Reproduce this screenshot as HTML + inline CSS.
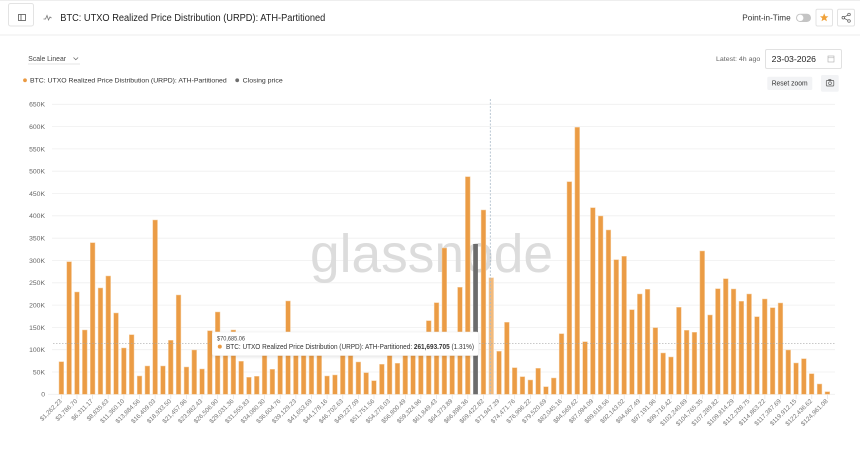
<!DOCTYPE html>
<html>
<head>
<meta charset="utf-8">
<style>
html,body{margin:0;padding:0;background:#fff;}
svg{display:block;font-family:"Liberation Sans",Arial,sans-serif;}
</style>
</head>
<body>
<svg width="860" height="461" viewBox="0 0 860 461" xmlns="http://www.w3.org/2000/svg">
<defs>
<filter id="sh" x="-10%" y="-40%" width="120%" height="180%">
<feDropShadow dx="0" dy="1" stdDeviation="1.5" flood-color="#000" flood-opacity="0.12"/>
</filter>
</defs>
<rect x="0" y="0" width="860" height="461" fill="#fff"/>
<!-- header -->
<line x1="0" y1="0.5" x2="860" y2="0.5" stroke="#eeeeee"/>
<line x1="0" y1="35" x2="860" y2="35" stroke="#ececec"/>
<rect x="8.5" y="3.5" width="25" height="22.5" rx="2" fill="#fff" stroke="#e3e3e3"/>
<rect x="18.5" y="14.5" width="7" height="6" fill="none" stroke="#555" stroke-width="0.8"/>
<line x1="21" y1="14.5" x2="21" y2="20.5" stroke="#555" stroke-width="0.8"/>
<polyline points="43.5,19 45.5,19 47,15.5 48.5,20 50,17 51.5,18" fill="none" stroke="#777" stroke-width="0.8"/>
<text x="60.3" y="21" font-size="10" fill="#222" textLength="265" lengthAdjust="spacingAndGlyphs">BTC: UTXO Realized Price Distribution (URPD): ATH-Partitioned</text>

<text x="742.3" y="20.5" font-size="8.3" fill="#333" textLength="48.4" lengthAdjust="spacingAndGlyphs">Point-in-Time</text>
<rect x="796" y="13.7" width="15" height="8.3" rx="4.15" fill="#c4c4c4"/>
<circle cx="800.2" cy="17.85" r="3.2" fill="#fff"/>
<rect x="816" y="9.3" width="16.5" height="16.7" rx="1.5" fill="#fff" stroke="#e3e3e3"/>
<polygon points="824.2,13.3 825.4,16.2 828.4,16.4 826.1,18.3 826.9,21.3 824.2,19.6 821.5,21.3 822.3,18.3 820,16.4 823,16.2" fill="#F0A23A"/>
<rect x="837.5" y="9.3" width="17" height="16.7" rx="1.5" fill="#fff" stroke="#e3e3e3"/>
<circle cx="849" cy="14.5" r="1.3" fill="none" stroke="#555" stroke-width="0.7"/>
<circle cx="843.3" cy="17.7" r="1.3" fill="none" stroke="#555" stroke-width="0.7"/>
<circle cx="849" cy="21" r="1.3" fill="none" stroke="#555" stroke-width="0.7"/>
<line x1="844.4" y1="17" x2="847.9" y2="15.1" stroke="#555" stroke-width="0.7"/>
<line x1="844.4" y1="18.4" x2="847.9" y2="20.3" stroke="#555" stroke-width="0.7"/>

<!-- controls -->
<text x="28.3" y="61" font-size="7.3" fill="#444" textLength="37.7" lengthAdjust="spacingAndGlyphs">Scale Linear</text>
<polyline points="73.5,57.5 75.8,59.8 78.1,57.5" fill="none" stroke="#666" stroke-width="0.7"/>
<line x1="28" y1="64" x2="80" y2="64" stroke="#e6e6e6"/>

<text x="716" y="61.2" font-size="6.5" fill="#666" textLength="44.3" lengthAdjust="spacingAndGlyphs">Latest: 4h ago</text>
<rect x="765.5" y="49.5" width="76" height="19" rx="1.5" fill="#fff" stroke="#e1e1e1"/>
<text x="771.7" y="62" font-size="8.5" fill="#222" textLength="44.3" lengthAdjust="spacingAndGlyphs">23-03-2026</text>
<rect x="828" y="56" width="6" height="6" fill="none" stroke="#aaa" stroke-width="0.6"/>
<line x1="828" y1="57.8" x2="834" y2="57.8" stroke="#aaa" stroke-width="0.5"/>

<rect x="767.3" y="76.7" width="45" height="13.3" rx="1.5" fill="#f2f3f5"/>
<text x="771.7" y="85.6" font-size="7" fill="#333" textLength="36" lengthAdjust="spacingAndGlyphs">Reset zoom</text>
<rect x="821" y="75" width="17.7" height="16.7" rx="1.5" fill="#f2f3f5"/>
<rect x="826.3" y="80.5" width="7.5" height="5.5" rx="0.8" fill="none" stroke="#555" stroke-width="0.7"/>
<rect x="828.3" y="79.3" width="3" height="1.2" fill="#555"/>
<circle cx="830" cy="83.2" r="1.4" fill="none" stroke="#555" stroke-width="0.6"/>

<!-- legend -->
<circle cx="25" cy="80.3" r="1.9" fill="#EA9A42"/>
<text x="30" y="82.6" font-size="6.8" fill="#333" textLength="196.7" lengthAdjust="spacingAndGlyphs">BTC: UTXO Realized Price Distribution (URPD): ATH-Partitioned</text>
<circle cx="237.2" cy="80.3" r="1.9" fill="#6e6e6e"/>
<text x="242.7" y="82.6" font-size="6.8" fill="#333" textLength="40" lengthAdjust="spacingAndGlyphs">Closing price</text>

<!-- gridlines -->
<g stroke="#efefef" stroke-width="0.8">
<line x1="52" y1="104.3" x2="835" y2="104.3"/>
<line x1="52" y1="126.6" x2="835" y2="126.6"/>
<line x1="52" y1="148.9" x2="835" y2="148.9"/>
<line x1="52" y1="171.2" x2="835" y2="171.2"/>
<line x1="52" y1="193.5" x2="835" y2="193.5"/>
<line x1="52" y1="215.8" x2="835" y2="215.8"/>
<line x1="52" y1="238.2" x2="835" y2="238.2"/>
<line x1="52" y1="260.5" x2="835" y2="260.5"/>
<line x1="52" y1="282.8" x2="835" y2="282.8"/>
<line x1="52" y1="305.1" x2="835" y2="305.1"/>
<line x1="52" y1="327.4" x2="835" y2="327.4"/>
<line x1="52" y1="349.7" x2="835" y2="349.7"/>
<line x1="52" y1="372.0" x2="835" y2="372.0"/>
<line x1="48" y1="394.3" x2="835" y2="394.3"/>
</g>
<g font-size="6.8" fill="#666" text-anchor="end">
<text x="45" y="106.7">650K</text>
<text x="45" y="129">600K</text>
<text x="45" y="151.3">550K</text>
<text x="45" y="173.6">500K</text>
<text x="45" y="195.9">450K</text>
<text x="45" y="218.2">400K</text>
<text x="45" y="240.6">350K</text>
<text x="45" y="262.9">300K</text>
<text x="45" y="285.2">250K</text>
<text x="45" y="307.5">200K</text>
<text x="45" y="329.8">150K</text>
<text x="45" y="352.1">100K</text>
<text x="45" y="374.4">50K</text>
<text x="45" y="396.7">0</text>
</g>

<!-- watermark -->
<text x="310" y="272" font-size="54" fill="#dcdcdc" textLength="243" lengthAdjust="spacingAndGlyphs">glassnode</text>

<!-- bars -->
<g fill="#EB9C45" stroke="#F6CFA2" stroke-width="0.5">
<rect x="59.0" y="361.7" width="4.7" height="32.6"/>
<rect x="66.8" y="261.7" width="4.7" height="132.6"/>
<rect x="74.6" y="292" width="4.7" height="102.3"/>
<rect x="82.4" y="330" width="4.7" height="64.3"/>
<rect x="90.3" y="242.7" width="4.7" height="151.6"/>
<rect x="98.1" y="288" width="4.7" height="106.3"/>
<rect x="105.9" y="276" width="4.7" height="118.3"/>
<rect x="113.7" y="313" width="4.7" height="81.3"/>
<rect x="121.5" y="348" width="4.7" height="46.3"/>
<rect x="129.3" y="334.7" width="4.7" height="59.6"/>
<rect x="137.2" y="376" width="4.7" height="18.3"/>
<rect x="145.0" y="366" width="4.7" height="28.3"/>
<rect x="152.8" y="220" width="4.7" height="174.3"/>
<rect x="160.6" y="366" width="4.7" height="28.3"/>
<rect x="168.4" y="340.3" width="4.7" height="54"/>
<rect x="176.2" y="295" width="4.7" height="99.3"/>
<rect x="184.1" y="367" width="4.7" height="27.3"/>
<rect x="191.9" y="350" width="4.7" height="44.3"/>
<rect x="199.7" y="369" width="4.7" height="25.3"/>
<rect x="207.5" y="330.7" width="4.7" height="63.6"/>
<rect x="215.3" y="312" width="4.7" height="82.3"/>
<rect x="223.1" y="340" width="4.7" height="54.3"/>
<rect x="231.0" y="330" width="4.7" height="64.3"/>
<rect x="238.8" y="361.3" width="4.7" height="33"/>
<rect x="246.6" y="377.3" width="4.7" height="17"/>
<rect x="254.4" y="376.3" width="4.7" height="18"/>
<rect x="262.2" y="340" width="4.7" height="54.3"/>
<rect x="270.0" y="369.3" width="4.7" height="25"/>
<rect x="277.8" y="340" width="4.7" height="54.3"/>
<rect x="285.7" y="301" width="4.7" height="93.3"/>
<rect x="293.5" y="340" width="4.7" height="54.3"/>
<rect x="301.3" y="340" width="4.7" height="54.3"/>
<rect x="309.1" y="340" width="4.7" height="54.3"/>
<rect x="316.9" y="340" width="4.7" height="54.3"/>
<rect x="324.7" y="376" width="4.7" height="18.3"/>
<rect x="332.6" y="375" width="4.7" height="19.3"/>
<rect x="340.4" y="352" width="4.7" height="42.3"/>
<rect x="348.2" y="352" width="4.7" height="42.3"/>
<rect x="356.0" y="362" width="4.7" height="32.3"/>
<rect x="363.8" y="372.7" width="4.7" height="21.6"/>
<rect x="371.6" y="380.7" width="4.7" height="13.6"/>
<rect x="379.5" y="364.3" width="4.7" height="30"/>
<rect x="387.3" y="340" width="4.7" height="54.3"/>
<rect x="395.1" y="363.3" width="4.7" height="31"/>
<rect x="402.9" y="340" width="4.7" height="54.3"/>
<rect x="410.7" y="340" width="4.7" height="54.3"/>
<rect x="418.5" y="340" width="4.7" height="54.3"/>
<rect x="426.4" y="320.7" width="4.7" height="73.6"/>
<rect x="434.2" y="302.7" width="4.7" height="91.6"/>
<rect x="442.0" y="248" width="4.7" height="146.3"/>
<rect x="449.8" y="340" width="4.7" height="54.3"/>
<rect x="457.6" y="287.3" width="4.7" height="107"/>
<rect x="465.4" y="176.7" width="4.7" height="217.6"/>
<rect x="481.1" y="210" width="4.7" height="184.3"/>
<rect x="496.7" y="351.3" width="4.7" height="43"/>
<rect x="504.5" y="322.3" width="4.7" height="72"/>
<rect x="512.3" y="367.7" width="4.7" height="26.6"/>
<rect x="520.1" y="376.7" width="4.7" height="17.6"/>
<rect x="528.0" y="380" width="4.7" height="14.3"/>
<rect x="535.8" y="368.3" width="4.7" height="26"/>
<rect x="543.6" y="386.7" width="4.7" height="7.6"/>
<rect x="551.4" y="378" width="4.7" height="16.3"/>
<rect x="559.2" y="333.7" width="4.7" height="60.6"/>
<rect x="567.0" y="181.7" width="4.7" height="212.6"/>
<rect x="574.9" y="127.3" width="4.7" height="267"/>
<rect x="582.7" y="341.7" width="4.7" height="52.6"/>
<rect x="590.5" y="207.7" width="4.7" height="186.6"/>
<rect x="598.3" y="216" width="4.7" height="178.3"/>
<rect x="606.1" y="230" width="4.7" height="164.3"/>
<rect x="613.9" y="259.7" width="4.7" height="134.6"/>
<rect x="621.8" y="256.3" width="4.7" height="138"/>
<rect x="629.6" y="309.7" width="4.7" height="84.6"/>
<rect x="637.4" y="294" width="4.7" height="100.3"/>
<rect x="645.2" y="289.3" width="4.7" height="105"/>
<rect x="653.0" y="327.7" width="4.7" height="66.6"/>
<rect x="660.8" y="353" width="4.7" height="41.3"/>
<rect x="668.6" y="357" width="4.7" height="37.3"/>
<rect x="676.5" y="307.3" width="4.7" height="87"/>
<rect x="684.3" y="330.3" width="4.7" height="64"/>
<rect x="692.1" y="332.3" width="4.7" height="62"/>
<rect x="699.9" y="251" width="4.7" height="143.3"/>
<rect x="707.7" y="315" width="4.7" height="79.3"/>
<rect x="715.5" y="288.7" width="4.7" height="105.6"/>
<rect x="723.4" y="278.7" width="4.7" height="115.6"/>
<rect x="731.2" y="289" width="4.7" height="105.3"/>
<rect x="739.0" y="301.3" width="4.7" height="93"/>
<rect x="746.8" y="294" width="4.7" height="100.3"/>
<rect x="754.6" y="316.7" width="4.7" height="77.6"/>
<rect x="762.4" y="299" width="4.7" height="95.3"/>
<rect x="770.3" y="307.7" width="4.7" height="86.6"/>
<rect x="778.1" y="303" width="4.7" height="91.3"/>
<rect x="785.9" y="350" width="4.7" height="44.3"/>
<rect x="793.7" y="363" width="4.7" height="31.3"/>
<rect x="801.5" y="358.7" width="4.7" height="35.6"/>
<rect x="809.3" y="373.7" width="4.7" height="20.6"/>
<rect x="817.2" y="384" width="4.7" height="10.3"/>
<rect x="825.0" y="391.7" width="4.7" height="2.6"/>
</g>
<rect x="473.2" y="244" width="4.7" height="150.3" fill="#6c6c6c"/>
<rect x="488.9" y="277.7" width="4.7" height="116.6" fill="#F2BA7C" stroke="#F8DDBE" stroke-width="0.5"/>

<!-- crosshair lines -->
<line x1="490.3" y1="99" x2="490.3" y2="394.3" stroke="#a9b9c8" stroke-width="0.8" stroke-dasharray="2,1.5"/>
<line x1="53" y1="343.3" x2="835" y2="343.3" stroke="#a9a9a9" stroke-width="0.7" stroke-dasharray="1.5,1.5"/>

<!-- x ticks -->
<g stroke="#e2e2e2" stroke-width="0.7">
<line x1="61.35" y1="394.3" x2="61.35" y2="399"/><line x1="77.0" y1="394.3" x2="77.0" y2="399"/><line x1="92.6" y1="394.3" x2="92.6" y2="399"/><line x1="108.2" y1="394.3" x2="108.2" y2="399"/><line x1="123.9" y1="394.3" x2="123.9" y2="399"/><line x1="139.5" y1="394.3" x2="139.5" y2="399"/><line x1="155.1" y1="394.3" x2="155.1" y2="399"/><line x1="170.8" y1="394.3" x2="170.8" y2="399"/><line x1="186.4" y1="394.3" x2="186.4" y2="399"/><line x1="202.0" y1="394.3" x2="202.0" y2="399"/>
<line x1="217.7" y1="394.3" x2="217.7" y2="399"/><line x1="233.3" y1="394.3" x2="233.3" y2="399"/><line x1="249.0" y1="394.3" x2="249.0" y2="399"/><line x1="264.6" y1="394.3" x2="264.6" y2="399"/><line x1="280.2" y1="394.3" x2="280.2" y2="399"/><line x1="295.9" y1="394.3" x2="295.9" y2="399"/><line x1="311.5" y1="394.3" x2="311.5" y2="399"/><line x1="327.1" y1="394.3" x2="327.1" y2="399"/><line x1="342.8" y1="394.3" x2="342.8" y2="399"/><line x1="358.4" y1="394.3" x2="358.4" y2="399"/>
<line x1="374.0" y1="394.3" x2="374.0" y2="399"/><line x1="389.7" y1="394.3" x2="389.7" y2="399"/><line x1="405.3" y1="394.3" x2="405.3" y2="399"/><line x1="420.9" y1="394.3" x2="420.9" y2="399"/><line x1="436.6" y1="394.3" x2="436.6" y2="399"/><line x1="452.2" y1="394.3" x2="452.2" y2="399"/><line x1="467.8" y1="394.3" x2="467.8" y2="399"/><line x1="483.5" y1="394.3" x2="483.5" y2="399"/><line x1="499.1" y1="394.3" x2="499.1" y2="399"/><line x1="514.7" y1="394.3" x2="514.7" y2="399"/>
<line x1="530.4" y1="394.3" x2="530.4" y2="399"/><line x1="546.0" y1="394.3" x2="546.0" y2="399"/><line x1="561.6" y1="394.3" x2="561.6" y2="399"/><line x1="577.3" y1="394.3" x2="577.3" y2="399"/><line x1="592.9" y1="394.3" x2="592.9" y2="399"/><line x1="608.5" y1="394.3" x2="608.5" y2="399"/><line x1="624.2" y1="394.3" x2="624.2" y2="399"/><line x1="639.8" y1="394.3" x2="639.8" y2="399"/><line x1="655.4" y1="394.3" x2="655.4" y2="399"/><line x1="671.1" y1="394.3" x2="671.1" y2="399"/>
<line x1="686.7" y1="394.3" x2="686.7" y2="399"/><line x1="702.3" y1="394.3" x2="702.3" y2="399"/><line x1="718.0" y1="394.3" x2="718.0" y2="399"/><line x1="733.6" y1="394.3" x2="733.6" y2="399"/><line x1="749.2" y1="394.3" x2="749.2" y2="399"/><line x1="764.9" y1="394.3" x2="764.9" y2="399"/><line x1="780.5" y1="394.3" x2="780.5" y2="399"/><line x1="796.1" y1="394.3" x2="796.1" y2="399"/><line x1="811.8" y1="394.3" x2="811.8" y2="399"/><line x1="827.4" y1="394.3" x2="827.4" y2="399"/>
</g>

<!-- x labels -->
<g font-size="6.3" fill="#777" text-anchor="end">
<text transform="translate(62.2,401.5) rotate(-45)">$1,262.23</text>
<text transform="translate(77.8,401.5) rotate(-45)">$3,786.70</text>
<text transform="translate(93.4,401.5) rotate(-45)">$6,311.17</text>
<text transform="translate(109.0,401.5) rotate(-45)">$8,835.63</text>
<text transform="translate(124.7,401.5) rotate(-45)">$11,360.10</text>
<text transform="translate(140.3,401.5) rotate(-45)">$13,884.56</text>
<text transform="translate(155.9,401.5) rotate(-45)">$16,409.03</text>
<text transform="translate(171.6,401.5) rotate(-45)">$18,933.50</text>
<text transform="translate(187.2,401.5) rotate(-45)">$21,457.96</text>
<text transform="translate(202.8,401.5) rotate(-45)">$23,982.43</text>
<text transform="translate(218.5,401.5) rotate(-45)">$26,506.90</text>
<text transform="translate(234.1,401.5) rotate(-45)">$29,031.36</text>
<text transform="translate(249.8,401.5) rotate(-45)">$31,555.83</text>
<text transform="translate(265.4,401.5) rotate(-45)">$34,080.30</text>
<text transform="translate(281.0,401.5) rotate(-45)">$36,604.76</text>
<text transform="translate(296.7,401.5) rotate(-45)">$39,129.23</text>
<text transform="translate(312.3,401.5) rotate(-45)">$41,653.69</text>
<text transform="translate(327.9,401.5) rotate(-45)">$44,178.16</text>
<text transform="translate(343.6,401.5) rotate(-45)">$46,702.63</text>
<text transform="translate(359.2,401.5) rotate(-45)">$49,227.09</text>
<text transform="translate(374.8,401.5) rotate(-45)">$51,751.56</text>
<text transform="translate(390.5,401.5) rotate(-45)">$54,276.03</text>
<text transform="translate(406.1,401.5) rotate(-45)">$56,800.49</text>
<text transform="translate(421.7,401.5) rotate(-45)">$59,324.96</text>
<text transform="translate(437.4,401.5) rotate(-45)">$61,849.43</text>
<text transform="translate(453.0,401.5) rotate(-45)">$64,373.89</text>
<text transform="translate(468.6,401.5) rotate(-45)">$66,898.36</text>
<text transform="translate(484.3,401.5) rotate(-45)">$69,422.82</text>
<text transform="translate(499.9,401.5) rotate(-45)">$71,947.29</text>
<text transform="translate(515.5,401.5) rotate(-45)">$74,471.76</text>
<text transform="translate(531.2,401.5) rotate(-45)">$76,996.22</text>
<text transform="translate(546.8,401.5) rotate(-45)">$79,520.69</text>
<text transform="translate(562.4,401.5) rotate(-45)">$82,045.16</text>
<text transform="translate(578.1,401.5) rotate(-45)">$84,569.62</text>
<text transform="translate(593.7,401.5) rotate(-45)">$87,094.09</text>
<text transform="translate(609.3,401.5) rotate(-45)">$89,618.56</text>
<text transform="translate(625.0,401.5) rotate(-45)">$92,143.02</text>
<text transform="translate(640.6,401.5) rotate(-45)">$94,667.49</text>
<text transform="translate(656.2,401.5) rotate(-45)">$97,191.96</text>
<text transform="translate(671.9,401.5) rotate(-45)">$99,716.42</text>
<text transform="translate(687.5,401.5) rotate(-45)">$102,240.89</text>
<text transform="translate(703.1,401.5) rotate(-45)">$104,765.35</text>
<text transform="translate(718.8,401.5) rotate(-45)">$107,289.82</text>
<text transform="translate(734.4,401.5) rotate(-45)">$109,814.29</text>
<text transform="translate(750.0,401.5) rotate(-45)">$112,338.75</text>
<text transform="translate(765.7,401.5) rotate(-45)">$114,863.22</text>
<text transform="translate(781.3,401.5) rotate(-45)">$117,387.69</text>
<text transform="translate(796.9,401.5) rotate(-45)">$119,912.15</text>
<text transform="translate(812.6,401.5) rotate(-45)">$122,436.62</text>
<text transform="translate(828.2,401.5) rotate(-45)">$124,961.08</text>
</g>

<!-- tooltip -->
<rect x="212.3" y="332" width="266" height="23.5" rx="1.5" fill="#fff" stroke="#eeeeee" stroke-width="0.5" filter="url(#sh)"/>
<text x="217" y="340.6" font-size="6.3" fill="#444" textLength="28" lengthAdjust="spacingAndGlyphs">$70,685.06</text>
<circle cx="219.8" cy="346.6" r="2" fill="#EA9A42"/>
<text x="226" y="349.1" font-size="7.2" fill="#333" textLength="248" lengthAdjust="spacingAndGlyphs">BTC: UTXO Realized Price Distribution (URPD): ATH-Partitioned: <tspan font-weight="bold">261,693.705</tspan> (1.31%)</text>
</svg>
</body>
</html>
